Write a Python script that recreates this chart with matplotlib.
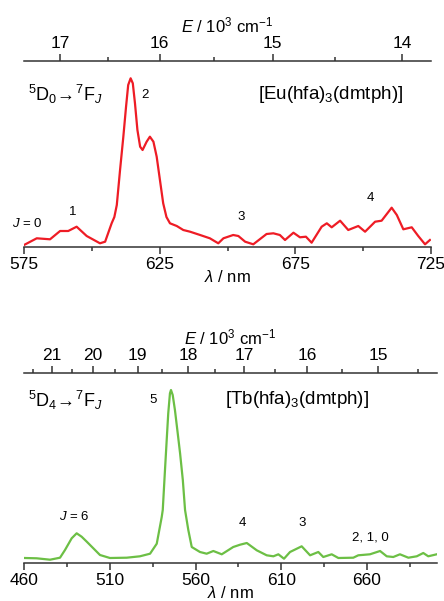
import numpy as np
import matplotlib
matplotlib.use('Agg')
import matplotlib.pyplot as plt

plt.rcParams['font.family'] = ['Liberation Sans', 'DejaVu Sans']
plt.rcParams['mathtext.fontset'] = 'custom'
plt.rcParams['mathtext.rm'] = 'Liberation Sans'
plt.rcParams['mathtext.it'] = 'Liberation Sans:italic'
plt.rcParams['mathtext.bf'] = 'Liberation Sans:bold'

# Eu complex emission (wavelength nm, intensity a.u.)
eu_nm = [575, 579.7, 584.6, 588.3, 591.3, 594.4, 598.1, 603, 604.9, 607.3, 608.3, 609.2,
         610.4, 611.6, 612.6, 613.4, 614.3, 615.1, 615.9, 616.8, 617.8, 618.7,
         620.2, 621.4, 622.7, 623.9, 625.1, 626.3, 627.5,
         628.8, 631.3, 633.7, 636.2, 639.9, 643.5, 646.6, 648.5, 652.1, 654,
         656.5, 659.5, 664.4, 666.9, 669.3, 671.2, 674.3, 676.7, 678.9, 681,
         684.7, 686.6, 688.4, 691.5, 694.5, 698.2, 700.7, 704.4, 706.8, 710.5,
         712.4, 714.8, 717.9, 720.3, 722.8, 724.6]
eu_int = [2, 8.7, 7.7, 16, 16, 20.3, 11, 3.7, 5.3, 23.7, 30, 42,
          77, 110, 140, 162, 168.7, 163.7, 143.7, 117, 100.3, 97,
          105.3, 110.3, 105.3, 90.3, 67, 43.7, 30,
          23.7, 21, 17, 15.3, 12, 8.7, 3.7, 8.7, 12, 11,
          5.3, 2.7, 13, 13.7, 12, 7, 14.3, 9.7, 10.3, 4.3,
          20.3, 23.7, 19.7, 26.3, 17, 21, 15.3, 25.3, 26.3, 39.3,
          32, 17.7, 19.7, 11, 2.7, 7]

# Tb complex emission
tb_nm = [460.6, 467.4, 475.2, 481, 483.9, 487.8, 490.7, 493.6, 496.6, 499.5, 504.3, 510.1,
         519.9, 527.6, 533.5, 537.4, 540.3, 540.9, 542.2, 543.2, 544.1, 545.1, 545.7,
         546.7, 548, 549.4, 551, 552.6, 553.9, 555.8, 557.8, 562.6, 566.5, 570.4,
         575.3, 582, 586, 589.9,
         595.7, 601.5, 605.4, 608.3, 611.6, 615.1, 621.9, 626.8, 631.6, 634.5,
         639.4, 643.3, 652, 654.9, 661.7, 667.6, 671.5, 675.3, 679.2, 684.1,
         689, 692.8, 695.7, 700.6]
tb_int = [5, 4.7, 3.3, 5.3, 13, 24.7, 29.7, 26.3, 21.3, 16.3, 8, 5,
          5.3, 6.7, 9.3, 19.3, 46, 53, 93, 123, 149.7, 169.7, 173,
          168, 153, 133, 109.7, 83, 53, 33, 16, 11, 9.3, 12,
          8.7, 16, 18.3, 20,
          12.7, 7.7, 6.7, 8.7, 4.3, 11, 16.7, 7.7, 11, 6,
          8.7, 5, 5.3, 7.7, 8.7, 12, 6.7, 6, 8.7, 5.3,
          6.7, 10, 6.7, 8.7]

eu_xticks = [575, 625, 675, 725]
eu_xminor = [600, 650, 700]
eu_E = [17, 16, 15, 14]
eu_Eminor = [16.5, 15.5, 14.5]

tb_xticks = [460, 510, 560, 610, 660]
tb_xminor = [485, 535, 585, 635, 685]
tb_E = [21, 20, 19, 18, 17, 16, 15]
tb_Eminor = [21.5, 20.5, 19.5, 18.5, 17.5, 16.5, 15.5, 14.5]

axc = '#333333'
W, H = 444, 601
fig = plt.figure(figsize=(W / 100, H / 100), dpi=100)


def panel(rect, x, y, color, xlim, ylim, xt, xm, E, Em):
    ax = fig.add_axes(rect)
    ax.plot(x, y, color=color, lw=1.6, solid_joinstyle='round')
    ax.set_xlim(xlim)
    ax.set_ylim(ylim)
    ax.set_yticks([])
    for s in ['left', 'right', 'top']:
        ax.spines[s].set_visible(False)
    ax.spines['bottom'].set_color(axc)
    ax.spines['bottom'].set_linewidth(1.1)
    ax.set_xticks(xt)
    ax.set_xticks(xm, minor=True)
    ax.tick_params(axis='x', which='major', length=5, width=1.1, color=axc,
                   labelsize=12.5, pad=2)
    ax.tick_params(axis='x', which='minor', length=3, width=1.1, color=axc)
    ax.set_xlabel(r'$\lambda$ / nm', fontsize=12, labelpad=-2)

    ax2 = ax.twiny()
    ax2.set_xlim(xlim)
    ax2.set_ylim(ylim)
    ax2.set_yticks([])
    for s in ['left', 'right', 'bottom']:
        ax2.spines[s].set_visible(False)
    ax2.spines['top'].set_color(axc)
    ax2.spines['top'].set_linewidth(1.1)
    ax2.set_xticks([1e4 / e for e in E])
    ax2.set_xticklabels([str(e) for e in E])
    ax2.set_xticks([1e4 / e for e in Em], minor=True)
    ax2.tick_params(axis='x', which='major', length=5, width=1.1, color=axc,
                    labelsize=12.5, pad=2)
    ax2.tick_params(axis='x', which='minor', length=3, width=1.1, color=axc)
    ax2.set_xlabel(r'$E$ / 10$^3$ cm$^{-1}$', fontsize=12, labelpad=2.5)
    return ax


ax1 = panel([24 / W, 1 - 247 / H, 407 / W, 186 / H], eu_nm, eu_int, '#ee1c25',
            (575, 725), (0, 186), eu_xticks, eu_xminor, eu_E, eu_Eminor)
ax1.text(576.5, 153, r'$^5$D$_0$$\!\rightarrow\!$$^7$F$_J$', fontsize=13, va='center')
ax1.text(661.2, 153, r'[Eu(hfa)$_3$(dmtph)]', fontsize=13.5, va='center')
ax1.text(619.6, 152, '2', fontsize=9.5, ha='center', va='center')
ax1.text(570.6, 24, r'$J$ = 0', fontsize=9.5, va='center')
ax1.text(593.1, 35, '1', fontsize=9.5, ha='center', va='center')
ax1.text(655, 30, '3', fontsize=9.5, ha='center', va='center')
ax1.text(702.5, 49, '4', fontsize=9.5, ha='center', va='center')

ax2 = panel([24 / W, 1 - 563 / H, 413 / W, 190 / H], tb_nm, tb_int, '#6cbf45',
            (460, 700.8), (0, 190), tb_xticks, tb_xminor, tb_E, tb_Eminor)
ax2.text(462.3, 163, r'$^5$D$_4$$\!\rightarrow\!$$^7$F$_J$', fontsize=13, va='center')
ax2.text(577.2, 163, r'[Tb(hfa)$_3$(dmtph)]', fontsize=13.5, va='center')
ax2.text(535.2, 163, '5', fontsize=9.5, ha='center', va='center')
ax2.text(489.2, 46, r'$J$ = 6', fontsize=9.5, ha='center', va='center')
ax2.text(587.1, 40, '4', fontsize=9.5, ha='center', va='center')
ax2.text(622.1, 40, '3', fontsize=9.5, ha='center', va='center')
ax2.text(661.7, 26, '2, 1, 0', fontsize=9.5, ha='center', va='center')

fig.savefig('out.png', dpi=100)
